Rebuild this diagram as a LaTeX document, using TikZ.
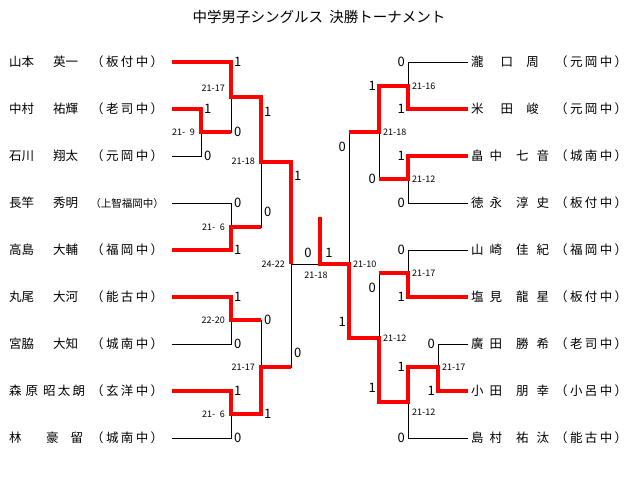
\documentclass[tikz,border=0pt]{standalone}
\usepackage{fontspec}
\setmainfont{Noto Sans CJK JP}
\usepackage{tikz}

\begin{document}
\begin{tikzpicture}[
        x=1pt, y=-1pt,
        win/.style={draw=red, line width=3.2pt},
        lose/.style={draw=black, line width=0.9pt},
        player/.style={anchor=west, inner sep=0pt, font=\fontsize{12.5}{12.5}\selectfont},
        digit/.style={inner sep=0pt, font=\fontsize{13}{13}\selectfont},
        score/.style={inner sep=0pt, font=\fontsize{9}{9}\selectfont}
    ]
    \useasboundingbox (0,0) rectangle (640,481);

    \node[font=\fontsize{14.5}{14.5}\selectfont] (title) at (319,17) {中学男子シングルス \hspace{3pt}決勝トーナメント};

    % left side
    \node[player] (l1) at (9,62) {山本\hspace{19pt}英一\hspace{13pt}\makebox[72pt][s]{（ 板 付 中 ）}};
    \node[player] (l2) at (9,109) {中村\hspace{19pt}祐輝\hspace{13pt}\makebox[72pt][s]{（ 老 司 中 ）}};
    \node[player] (l3) at (9,156) {石川\hspace{19pt}翔太\hspace{13pt}\makebox[72pt][s]{（ 元 岡 中 ）}};
    \node[player] (l4) at (9,203) {長竿\hspace{19pt}秀明\hspace{13pt}\makebox[72pt]{\fontsize{10.5}{10.5}\selectfont（上智福岡中）}};
    \node[player] (l5) at (9,250) {高島\hspace{19pt}大輔\hspace{13pt}\makebox[72pt][s]{（ 福 岡 中 ）}};
    \node[player] (l6) at (9,297) {丸尾\hspace{19pt}大河\hspace{13pt}\makebox[72pt][s]{（ 能 古 中 ）}};
    \node[player] (l7) at (9,344) {宮脇\hspace{19pt}大知\hspace{13pt}\makebox[72pt][s]{（ 城 南 中 ）}};
    \node[player] (l8) at (9,391) {\makebox[29pt][s]{森 原}\hspace{5pt}\makebox[42pt][s]{昭 太 朗}\hspace{6pt}\makebox[72pt][s]{（ 玄 洋 中 ）}};
    \node[player] (l9) at (9,438) {\makebox[24pt][l]{林}\hspace{13pt}\makebox[37pt][s]{豪 留}\hspace{8pt}\makebox[72pt][s]{（ 城 南 中 ）}};

    % right side
    \node[player] (r1) at (471,62) {\makebox[42pt][s]{瀧 口}\hspace{3pt}\makebox[33pt]{周}\hspace{6pt}\makebox[72pt][s]{（ 元 岡 中 ）}};
    \node[player] (r2) at (471,109) {\makebox[42pt][s]{米 田}\hspace{3pt}\makebox[33pt]{峻}\hspace{6pt}\makebox[72pt][s]{（ 元 岡 中 ）}};
    \node[player] (r3) at (471,156) {\makebox[31pt][s]{畠 中}\hspace{14pt}\makebox[33pt][s]{七 音}\hspace{6pt}\makebox[72pt][s]{（ 城 南 中 ）}};
    \node[player] (r4) at (471,203) {\makebox[31pt][s]{徳 永}\hspace{14pt}\makebox[33pt][s]{淳 史}\hspace{6pt}\makebox[72pt][s]{（ 板 付 中 ）}};
    \node[player] (r5) at (471,250) {\makebox[31pt][s]{山 崎}\hspace{14pt}\makebox[33pt][s]{佳 紀}\hspace{6pt}\makebox[72pt][s]{（ 福 岡 中 ）}};
    \node[player] (r6) at (471,297) {\makebox[31pt][s]{塩 見}\hspace{14pt}\makebox[33pt][s]{龍 星}\hspace{6pt}\makebox[72pt][s]{（ 板 付 中 ）}};
    \node[player] (r7) at (471,344) {\makebox[31pt][s]{廣 田}\hspace{14pt}\makebox[33pt][s]{勝 希}\hspace{6pt}\makebox[72pt][s]{（ 老 司 中 ）}};
    \node[player] (r8) at (471,391) {\makebox[31pt][s]{小 田}\hspace{14pt}\makebox[33pt][s]{朋 幸}\hspace{6pt}\makebox[72pt][s]{（ 小 呂 中 ）}};
    \node[player] (r9) at (471,438) {\makebox[31pt][s]{島 村}\hspace{14pt}\makebox[33pt][s]{祐 汰}\hspace{6pt}\makebox[72pt][s]{（ 能 古 中 ）}};

    \foreach \i in {1,...,9} {
        \coordinate (p\i) at (172,15+47*\i);
        \coordinate (q\i) at (468,15+47*\i);
    }

    % match points
    \coordinate (la) at (201,132);
    \coordinate (lb) at (231,97);
    \coordinate (lc) at (231,227);
    \coordinate (ld) at (261,162);
    \coordinate (le) at (231,320);
    \coordinate (lf) at (231,414);
    \coordinate (lg) at (261,367);
    \coordinate (lh) at (291,264);
    \coordinate (ra) at (408,86);
    \coordinate (rb) at (408,179);
    \coordinate (rc) at (379,132);
    \coordinate (rd) at (408,273);
    \coordinate (re) at (438,367);
    \coordinate (rf) at (408,402);
    \coordinate (rg) at (379,338);
    \coordinate (rh) at (349,264);
    \coordinate (fin) at (320,264);
    \coordinate (top) at (320,217);

    \draw[lose] (p1) -| (lb)  (p2) -| (la)  (p3) -| (la)  (la) -| (lb)
                (p4) -| (lc)  (p5) -| (lc)  (lb) -| (ld)  (lc) -| (ld)
                (p6) -| (le)  (p7) -| (le)  (p8) -| (lf)  (p9) -| (lf)
                (le) -| (lg)  (lf) -| (lg)  (ld) -| (lh)  (lg) -| (lh)  (lh) -- (fin);
    \draw[lose] (q1) -| (ra)  (q2) -| (ra)  (q3) -| (rb)  (q4) -| (rb)
                (ra) -| (rc)  (rb) -| (rc)  (q5) -| (rd)  (q6) -| (rd)
                (q7) -| (re)  (q8) -| (re)  (re) -| (rf)  (q9) -| (rf)
                (rd) -| (rg)  (rf) -| (rg)  (rc) -| (rh)  (rg) -| (rh)  (rh) -- (fin);

    \draw[win] (p1) -| (lb) -| (ld) -| (lh);
    \draw[win] (p2) -| (la) -- (la -| lb);
    \draw[win] (p5) -| (lc) -- (lc -| ld);
    \draw[win] (p6) -| (le) -- (le -| lg);
    \draw[win] (p8) -| (lf) -| (lg) -- (lg -| lh);
    \draw[win] (q2) -| (ra) -| (rc) -- (rc -| rh);
    \draw[win] (q3) -| (rb) -- (rb -| rc);
    \draw[win] (q6) -| (rd) -- (rd -| rg);
    \draw[win] (q8) -| (re) -| (rf) -| (rg) -| (rh) -- (fin) -- (top);

    % games won
    \node[digit, anchor=west] (w1) at (234,62) {1};
    \node[digit, anchor=west] (w2) at (204,109) {1};
    \node[digit, anchor=west] (w3) at (204,156) {0};
    \node[digit, anchor=west] (w4) at (234,132) {0};
    \node[digit, anchor=west] (w5) at (234,203) {0};
    \node[digit, anchor=west] (w6) at (234,250) {1};
    \node[digit, anchor=west] (w7) at (264,112) {1};
    \node[digit, anchor=west] (w8) at (264,212) {0};
    \node[digit, anchor=west] (w9) at (234,297) {1};
    \node[digit, anchor=west] (w10) at (234,344) {0};
    \node[digit, anchor=west] (w11) at (234,391) {1};
    \node[digit, anchor=west] (w12) at (234,438) {0};
    \node[digit, anchor=west] (w13) at (264,320) {0};
    \node[digit, anchor=west] (w14) at (264,414) {1};
    \node[digit, anchor=west] (w15) at (294,176) {1};
    \node[digit, anchor=west] (w16) at (294,353) {0};
    \node[digit] (f1) at (308,253) {0};
    \node[digit] (f2) at (329,253) {1};
    \node[digit, anchor=east] (v1) at (405,62) {0};
    \node[digit, anchor=east] (v2) at (405,109) {1};
    \node[digit, anchor=east] (v3) at (405,156) {1};
    \node[digit, anchor=east] (v4) at (405,203) {0};
    \node[digit, anchor=east] (v5) at (376,86) {1};
    \node[digit, anchor=east] (v6) at (376,179) {0};
    \node[digit, anchor=east] (v7) at (346,147) {0};
    \node[digit, anchor=east] (v8) at (405,250) {0};
    \node[digit, anchor=east] (v9) at (405,297) {1};
    \node[digit, anchor=east] (v10) at (435,344) {0};
    \node[digit, anchor=east] (v11) at (435,391) {1};
    \node[digit, anchor=east] (v12) at (405,367) {1};
    \node[digit, anchor=east] (v13) at (405,438) {0};
    \node[digit, anchor=east] (v14) at (376,288) {0};
    \node[digit, anchor=east] (v15) at (376,388) {1};
    \node[digit, anchor=east] (v16) at (346,322) {1};

    % scores
    \node[score, anchor=east] (s1) at (225,88) {21-17};
    \node[score, anchor=east] (s2) at (195,132) {21-\enspace 9};
    \node[score, anchor=east] (s3) at (255,161) {21-18};
    \node[score, anchor=east] (s4) at (225,227) {21-\enspace 6};
    \node[score, anchor=east] (s5) at (225,320) {22-20};
    \node[score, anchor=east] (s6) at (225,414) {21-\enspace 6};
    \node[score, anchor=east] (s7) at (255,367) {21-17};
    \node[score, anchor=east] (s8) at (285,264) {24-22};
    \node[score] (s9) at (316,275) {21-18};
    \node[score, anchor=west] (t1) at (412,86) {21-16};
    \node[score, anchor=west] (t2) at (412,179) {21-12};
    \node[score, anchor=west] (t3) at (383,132) {21-18};
    \node[score, anchor=west] (t4) at (412,273) {21-17};
    \node[score, anchor=west] (t5) at (442,367) {21-17};
    \node[score, anchor=west] (t6) at (412,412) {21-12};
    \node[score, anchor=west] (t7) at (383,338) {21-12};
    \node[score, anchor=west] (t8) at (353,264) {21-10};
\end{tikzpicture}
\end{document}
